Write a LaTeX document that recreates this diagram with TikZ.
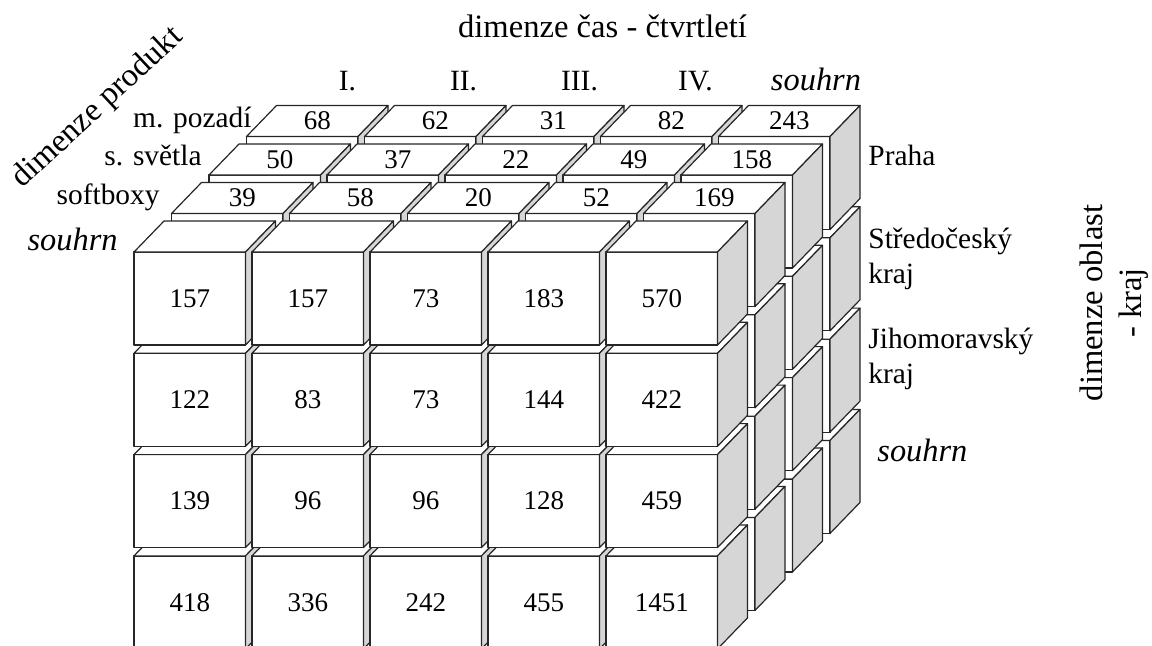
\documentclass[tikz,border=0pt]{standalone}
\usepackage{fontspec}
\setmainfont{Liberation Serif}

\newcommand{\cubew}{111.5}
\newcommand{\cubeh}{93}
\newcommand{\cubedx}{30}
\newcommand{\cubedy}{31}
% one cell of the cube, front top-left corner at (#1,#2)
\newcommand{\datacube}[2]{%
	\begin{scope}[shift={(#1,#2)}]
		\draw[frontface] (0,0) rectangle (\cubew,\cubeh);
		\draw[topface] (0,0) -- ++(\cubedx,-\cubedy) -- ++(\cubew,0) -- (\cubew,0) -- cycle;
		\draw[sideface] (\cubew,0) -- ++(\cubedx,-\cubedy) -- ++(0,\cubeh) -- (\cubew,\cubeh) -- cycle;
	\end{scope}}

\begin{document}
\begin{tikzpicture}[
			x=0.5pt, y=-0.5pt,
			frontface/.style={draw=black!85, fill=white, line width=0.6pt, line join=round},
			topface/.style={frontface},
			sideface/.style={frontface, fill=black!16},
			cellnum/.style={inner sep=0pt, font=\fontsize{13.5}{16}\selectfont},
			dimlabel/.style={inner sep=0pt, font=\fontsize{14.7}{17.5}\selectfont},
			sumlabel/.style={inner sep=0pt, font=\fontsize{16.2}{19}\selectfont\itshape},
			titlelabel/.style={inner sep=0pt, font=\fontsize{16.3}{19.5}\selectfont}
			]
			\useasboundingbox (0,0) rectangle (1152,645);
			
			% cells, back layer first
			\foreach \l in {3,2,1,0}{
				\foreach \r in {3,2,1,0}{
					\foreach \c in {0,...,4}{
						\pgfmathsetmacro{\cx}{134+118*\c+37.5*\l}
						\pgfmathsetmacro{\cy}{252+101.3*\r-38.5*\l}
						\datacube{\cx}{\cy}
					}}}
			
			% values on the front
			\foreach \row [count=\r from 0] in {{157,157,73,183,570},{122,83,73,144,422},{139,96,96,128,459},{418,336,242,455,1451}}{
				\foreach \v [count=\c from 0] in \row
				\node[cellnum] (f-\r-\c) at ({134+118*\c+\cubew/2},{252+101.3*\r+\cubeh/2}) {\v};
			}
			% values on top of the product layers
			\foreach \row [count=\l] in {{39,58,20,52,169},{50,37,22,49,158},{68,62,31,82,243}}{
				\foreach \v [count=\c from 0] in \row
				\node[cellnum] (t-\l-\c) at ({134+118*\c+37.5*\l+\cubew/2+\cubedx/2},{252-38.5*\l-\cubedy/2}) {\v};
			}
			
			% product
			\node[dimlabel, anchor=base east] (p-mp) at (252,127.5) {m. pozadí};
			\node[dimlabel, anchor=base east] (p-ss) at (202,165.5) {s. světla};
			\node[dimlabel, anchor=base east] (p-sb) at (160,204) {softboxy};
			\node[sumlabel, anchor=base east] (p-su) at (118,250) {souhrn};
			\node[titlelabel, rotate=43] (produkt) at (98,108) {dimenze produkt};
			
			% time
			\node[titlelabel, anchor=base] (cas) at (602.5,37) {dimenze čas - čtvrtletí};
			\foreach \q [count=\c from 0] in {I.,II.,III.,IV.}
			\node[dimlabel, anchor=base] (q-\c) at ({347.5+116*\c},90) {\q};
			\node[sumlabel, anchor=base] (q-su) at (816,90) {souhrn};
			
			% region
			\node[dimlabel, anchor=base west] (o-pr) at (868,165) {Praha};
			\node[dimlabel, anchor=base west, align=left] (o-sc) at (868,283) {Středočeský\\kraj};
			\node[dimlabel, anchor=base west, align=left] (o-jm) at (868,383) {Jihomoravský\\kraj};
			\node[sumlabel, anchor=base west] (o-su) at (877,461.5) {souhrn};
			\node[titlelabel, rotate=90, align=center] (oblast) at (1114,303) {dimenze oblast\\- kraj};
		\end{tikzpicture}
\end{document}
